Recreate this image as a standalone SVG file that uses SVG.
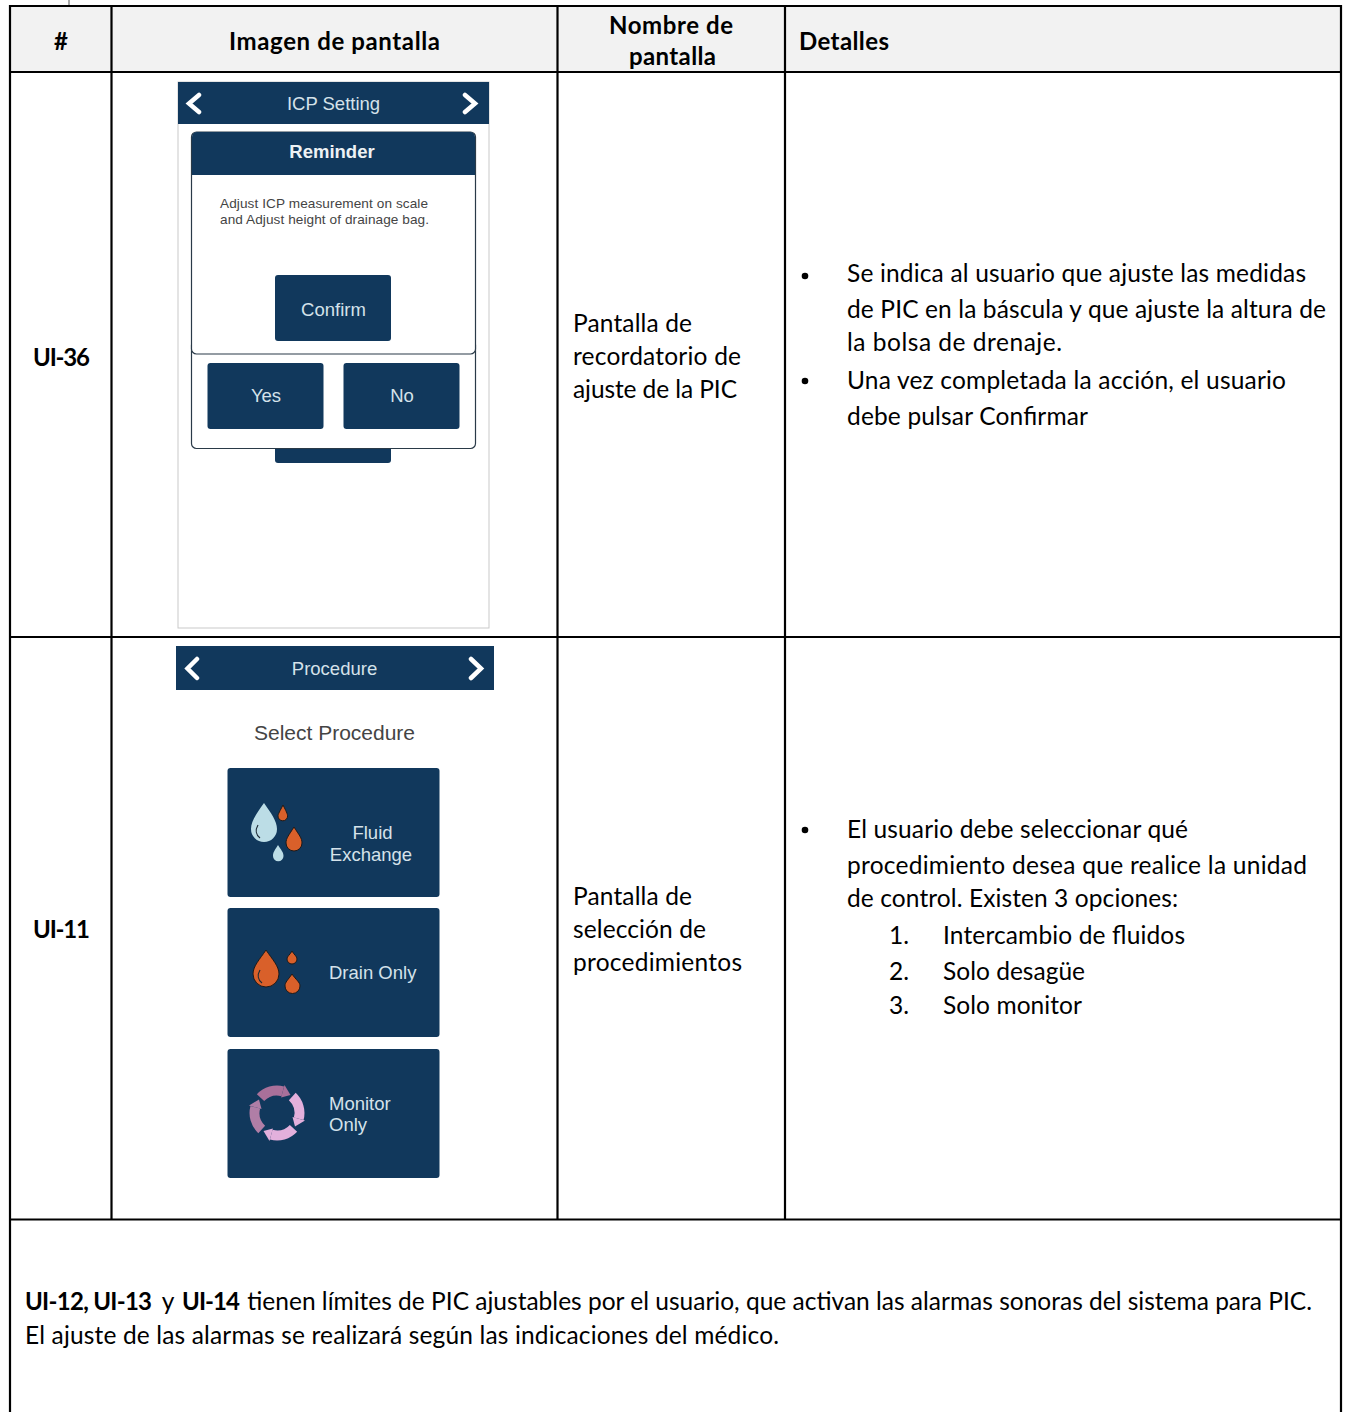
<svg xmlns="http://www.w3.org/2000/svg" width="1353" height="1412" viewBox="0 0 1353 1412">
<style>
text{font-family:Lato,"Liberation Sans",sans-serif;font-size:24.500px;fill:#000}
.b{font-weight:700;font-size:24px}
.u{font-family:"Liberation Sans",Arial,sans-serif;fill:#d5e2ea;font-size:18.500px}
.s{font-family:"Liberation Sans",Arial,sans-serif;fill:#444}
.n{fill:#11385c}
.g{stroke:#000;stroke-width:2.200;fill:none}
.o{fill:#fff;stroke:#2a3a48;stroke-width:1.200}
.c{fill:none;stroke:#fff;stroke-width:4.500;stroke-linecap:round}
.r{fill:#d9602a;stroke:#1d1a1a;stroke-width:1}
.l{fill:#bcdde6}
.h{fill:none;stroke:#1d2a35;stroke-width:1.200}
.a{fill:none;stroke-width:10}
</style>
<rect width="1353" height="1412" fill="#fff"/>
<g id="table">
<rect x="10" y="6" width="1331" height="66" fill="#f2f2f2"/>
<path d="M69 0V5" stroke="#aaa" stroke-width="2"/>
<path class="g" d="M9 6H1342M10 72H1341M10 637H1341M10 1219.500H1341M10 5V1412M1341 5V1412M111.500 5V1219M557.500 5V1219M785 5V1219"/>
</g>
<g id="header">
<text class="b" x="61" y="50" text-anchor="middle">#</text>
<text class="b" x="229" y="50" textLength="211">Imagen de pantalla</text>
<text class="b" x="609" y="34" textLength="124">Nombre de</text>
<text class="b" x="629" y="65" textLength="87">pantalla</text>
<text class="b" x="799" y="50" textLength="90">Detalles</text>
</g>
<g id="ui36">
<text class="b" x="33" y="366" textLength="57">UI-36</text>
<rect x="178" y="82" width="311" height="546" fill="#fff" stroke="#c9c9c9" stroke-width="1"/>
<rect class="n" x="178" y="82" width="311" height="42"/>
<path class="c" d="M199 95L189 103.500L199 112M465 95L475 103.500L465 112"/>
<text class="u" x="333.500" y="110" text-anchor="middle">ICP Setting</text>
<rect class="n" x="275" y="420" width="116" height="43" rx="3"/>
<rect class="o" x="191.500" y="340" width="284" height="108.500" rx="5"/>
<rect class="o" x="191.500" y="132" width="284" height="222" rx="5"/>
<path class="n" d="M197 132H470a5 5 0 0 1 5 5V175H192V137a5 5 0 0 1 5-5Z"/>
<text class="u" x="332" y="158" text-anchor="middle" style="font-weight:700;fill:#edf2f5">Reminder</text>
<text class="s" x="220" y="208" style="font-size:13.600px" textLength="208">Adjust ICP measurement on scale</text>
<text class="s" x="220" y="224" style="font-size:13.600px" textLength="209">and Adjust height of drainage bag.</text>
<rect class="n" x="275" y="275" width="116" height="66" rx="3"/>
<text class="u" x="333.500" y="316" text-anchor="middle">Confirm</text>
<rect class="n" x="207.500" y="363" width="116" height="66" rx="3"/>
<text class="u" x="266" y="402" text-anchor="middle">Yes</text>
<rect class="n" x="343.500" y="363" width="116" height="66" rx="3"/>
<text class="u" x="402" y="402" text-anchor="middle">No</text>
<text x="573" y="332" textLength="119">Pantalla de</text>
<text x="573" y="365" textLength="168">recordatorio de</text>
<text x="573" y="398" textLength="164">ajuste de la PIC</text>
<circle cx="805" cy="276" r="3.300"/>
<circle cx="805" cy="381" r="3.300"/>
<text x="847" y="282" textLength="459">Se indica al usuario que ajuste las medidas</text>
<text x="847" y="318" textLength="479">de PIC en la báscula y que ajuste la altura de</text>
<text x="847" y="351" textLength="215">la bolsa de drenaje.</text>
<text x="847" y="389" textLength="439">Una vez completada la acción, el usuario</text>
<text x="847" y="425" textLength="241">debe pulsar Confirmar</text>
</g>
<g id="ui11">
<text class="b" x="33" y="938" textLength="57">UI-11</text>
<rect class="n" x="176" y="646" width="318" height="44"/>
<path class="c" d="M197 659L187.500 668.500L197 678M471 659L481 668.500L471 678"/>
<text class="u" x="334.500" y="675" text-anchor="middle">Procedure</text>
<text class="s" x="334.500" y="740" text-anchor="middle" style="font-size:21px">Select Procedure</text>
<rect class="n" x="227.500" y="768" width="212" height="129" rx="3"/>
<rect class="n" x="227.500" y="908" width="212" height="129" rx="3"/>
<rect class="n" x="227.500" y="1049" width="212" height="129" rx="3"/>
<path class="l" d="M264 803C257 813 251 821 251 829A13 13 0 0 0 277 829C277 821 271 813 264 803Z"/>
<path class="h" d="M258 825C255 830 256 835 260 838"/>
<path class="r" d="M283 805C280 811 278 814 278 816A4.800 4.800 0 0 0 287.600 816C287.600 814 286 811 283 805Z"/>
<path class="r" d="M294 827C289 835 286 838 286 843A8 8 0 0 0 302 843C302 838 299 835 294 827Z"/>
<path class="l" d="M278 845C275 850 273 852 273 856A5 5 0 0 0 283.500 856C283.500 852 281 850 278 845Z"/>
<text class="u" x="372.500" y="839" text-anchor="middle">Fluid</text>
<text class="u" x="371" y="861" text-anchor="middle">Exchange</text>
<path class="r" d="M266 950C260 959 253 966 253 974A13 13 0 0 0 279 974C279 966 272 959 266 950Z"/>
<path class="h" d="M260 970C257 975 258 980 262 983"/>
<path class="r" d="M292 951C290 955 287 956 287 959A5 5 0 0 0 297 959C297 956 294 955 292 951Z"/>
<path class="r" d="M292 974C288 980 285 982 285 986A7.500 7.500 0 0 0 300 986C300 982 296 980 292 974Z"/>
<text class="u" x="329" y="979">Drain Only</text>
<path class="a" stroke="#a9709a" d="M260.500 1097.700A22.500 22.500 0 0 1 282.800 1091.300"/>
<path fill="#a9709a" d="M281.100 1097.500L284.500 1085L290.500 1095Z"/>
<path class="a" stroke="#e3b0dc" d="M292.300 1096.500A22.500 22.500 0 0 1 298.700 1118.800"/>
<path fill="#e3b0dc" d="M292.500 1117.100L305 1120.500L295 1126.500Z"/>
<path class="a" stroke="#e3b0dc" d="M293.500 1128.300A22.500 22.500 0 0 1 271.200 1134.700"/>
<path fill="#e3b0dc" d="M272.900 1128.500L269.500 1141L263.500 1131Z"/>
<path class="a" stroke="#b07ea6" d="M261.700 1129.500A22.500 22.500 0 0 1 255.300 1107.200"/>
<path fill="#b07ea6" d="M261.500 1108.900L249 1105.500L259 1099.500Z"/>
<text class="u" x="329" y="1110">Monitor</text>
<text class="u" x="329" y="1131">Only</text>
<text x="573" y="905" textLength="119">Pantalla de</text>
<text x="573" y="938" textLength="133">selección de</text>
<text x="573" y="971" textLength="169">procedimientos</text>
<circle cx="805" cy="830" r="3.300"/>
<text x="847" y="838" textLength="341">El usuario debe seleccionar qué</text>
<text x="847" y="874" textLength="460">procedimiento desea que realice la unidad</text>
<text x="847" y="907" textLength="331">de control. Existen 3 opciones:</text>
<text x="889" y="944">1.</text><text x="943" y="944" textLength="242">Intercambio de fluidos</text>
<text x="889" y="980">2.</text><text x="943" y="980" textLength="142">Solo desagüe</text>
<text x="889" y="1014">3.</text><text x="943" y="1014" textLength="139">Solo monitor</text>
</g>
<g id="note">
<text y="1310"><tspan class="b" x="25" textLength="127">UI-12, UI-13</tspan><tspan x="156"> y </tspan><tspan class="b" x="182" textLength="58">UI-14</tspan><tspan x="241" textLength="1071"> tienen límites de PIC ajustables por el usuario, que activan las alarmas sonoras del sistema para PIC.</tspan></text>
<text x="25" y="1344" textLength="754">El ajuste de las alarmas se realizará según las indicaciones del médico.</text>
</g>
</svg>
